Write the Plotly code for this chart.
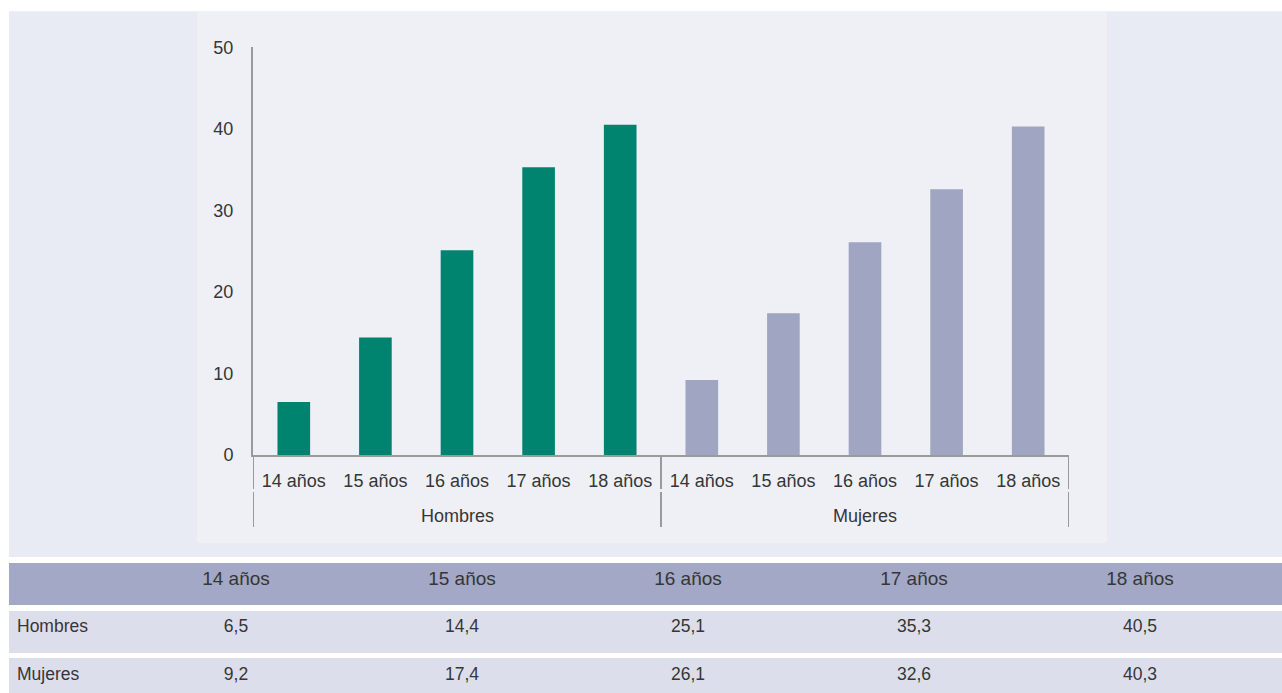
import plotly.graph_objects as go

edades = ['14 años', '15 años', '16 años', '17 años', '18 años']
grupos = ['Hombres', 'Mujeres']
hombres = [6.5, 14.4, 25.1, 35.3, 40.5]
mujeres = [9.2, 17.4, 26.1, 32.6, 40.3]
y_ticks = [0, 10, 20, 30, 40, 50]

W, H = 1282, 703
# la captura comprime un poco en vertical: se compensa al colocar en papel
SY, EY = 0.972, 10
col_verde = '#00846f'
col_gris = '#a0a6c1'
col_eje = '#9a9a9a'
txt = '#363636'
fuente = 'Liberation Sans, Arial, sans-serif'


def px(x):
    return x / W


def py(y):
    return min(max(1 - (y / SY - EY) / H, 0), 1)


def alto(y0, y1):
    return round((y1 - y0) / SY)


def fmt(v):
    return f'{v:.1f}'.replace('.', ',')


n = len(edades)
pos_h = list(range(n))
pos_m = [n + i for i in range(n)]

fig = go.Figure()
fig.add_trace(go.Bar(x=pos_h, y=hombres, name=grupos[0],
                     marker_color=col_verde, marker_line_width=0, width=0.4))
fig.add_trace(go.Bar(x=pos_m, y=mujeres, name=grupos[1],
                     marker_color=col_gris, marker_line_width=0, width=0.4))

# tabla: una fila por traza para dejar el hueco blanco entre filas
filas = [
    ([''] + edades + [''], '#a2a8c5', 19, 563, 606),
    ([grupos[0]] + [fmt(v) for v in hombres] + [''], '#dcdfeb', 17.5, 611, 654),
    ([grupos[1]] + [fmt(v) for v in mujeres] + [''], '#dcdfeb', 17.5, 659, 702),
]
for vals, color, size, ya, yb in filas:
    h = min(alto(ya, yb), int(py(ya) * H))
    fig.add_trace(go.Table(
        domain=dict(x=[px(9), 1], y=[py(ya) - h / H, py(ya)]),
        columnwidth=[114, 226, 226, 226, 226, 226, 29],
        header=dict(values=vals, fill_color=color, height=h,
                    line=dict(color=color, width=1),
                    align=['left'] + ['center'] * 6,
                    font=dict(family=fuente, size=size, color=txt)),
        cells=dict(values=[[] for _ in vals], line_width=0, height=0),
    ))

# paneles de fondo
shapes = [
    dict(type='rect', xref='paper', yref='paper', layer='below',
         x0=px(9), x1=1, y0=py(557), y1=py(11),
         fillcolor='#e8ebf3', line_width=0),
    dict(type='rect', xref='paper', yref='paper', layer='below',
         x0=px(197), x1=px(1107), y0=py(543), y1=py(11),
         fillcolor='#eef0f5', line_width=0),
]
# separadores de grupo del eje x
for xd in [-0.5, n - 0.5, 2 * n - 0.5]:
    for ya, yb in [(455, 489), (492, 527)]:
        shapes.append(dict(type='line', xref='x', yref='paper',
                           x0=xd, x1=xd, y0=py(ya), y1=py(yb),
                           line=dict(color=col_eje, width=2)))

annotations = [
    dict(x=sum(p) / n, y=py(516), xref='x', yref='paper', text=g,
         yanchor='middle', showarrow=False, font=dict(size=18, color=txt))
    for g, p in zip(grupos, [pos_h, pos_m])
]

fig.update_layout(
    width=W, height=H,
    margin=dict(l=0, r=0, t=0, b=0),
    paper_bgcolor='white',
    plot_bgcolor='rgba(0,0,0,0)',
    barmode='overlay',
    showlegend=False,
    font=dict(family=fuente, size=18, color=txt),
    shapes=shapes,
    annotations=annotations,
    xaxis=dict(
        domain=[px(253), px(1069)],
        range=[-0.5, 2 * n - 0.5],
        tickvals=pos_h + pos_m, ticktext=edades * 2,
        showline=True, linecolor=col_eje, linewidth=2,
        ticks='', showgrid=False, zeroline=False,
        ticklabelstandoff=8,
        tickfont=dict(size=18, color=txt),
    ),
    yaxis=dict(
        domain=[py(455), py(47)],
        range=[0, 50], tickvals=y_ticks,
        showline=True, linecolor=col_eje, linewidth=2,
        showgrid=False, zeroline=False, ticks='',
        ticklabelstandoff=14,
        tickfont=dict(size=18, color=txt),
    ),
)

# sin margen en el body para que la figura empiece en (0, 0)
fig.write_html('out.html', config={'displayModeBar': False},
               post_script="document.body.style.margin='0';")
